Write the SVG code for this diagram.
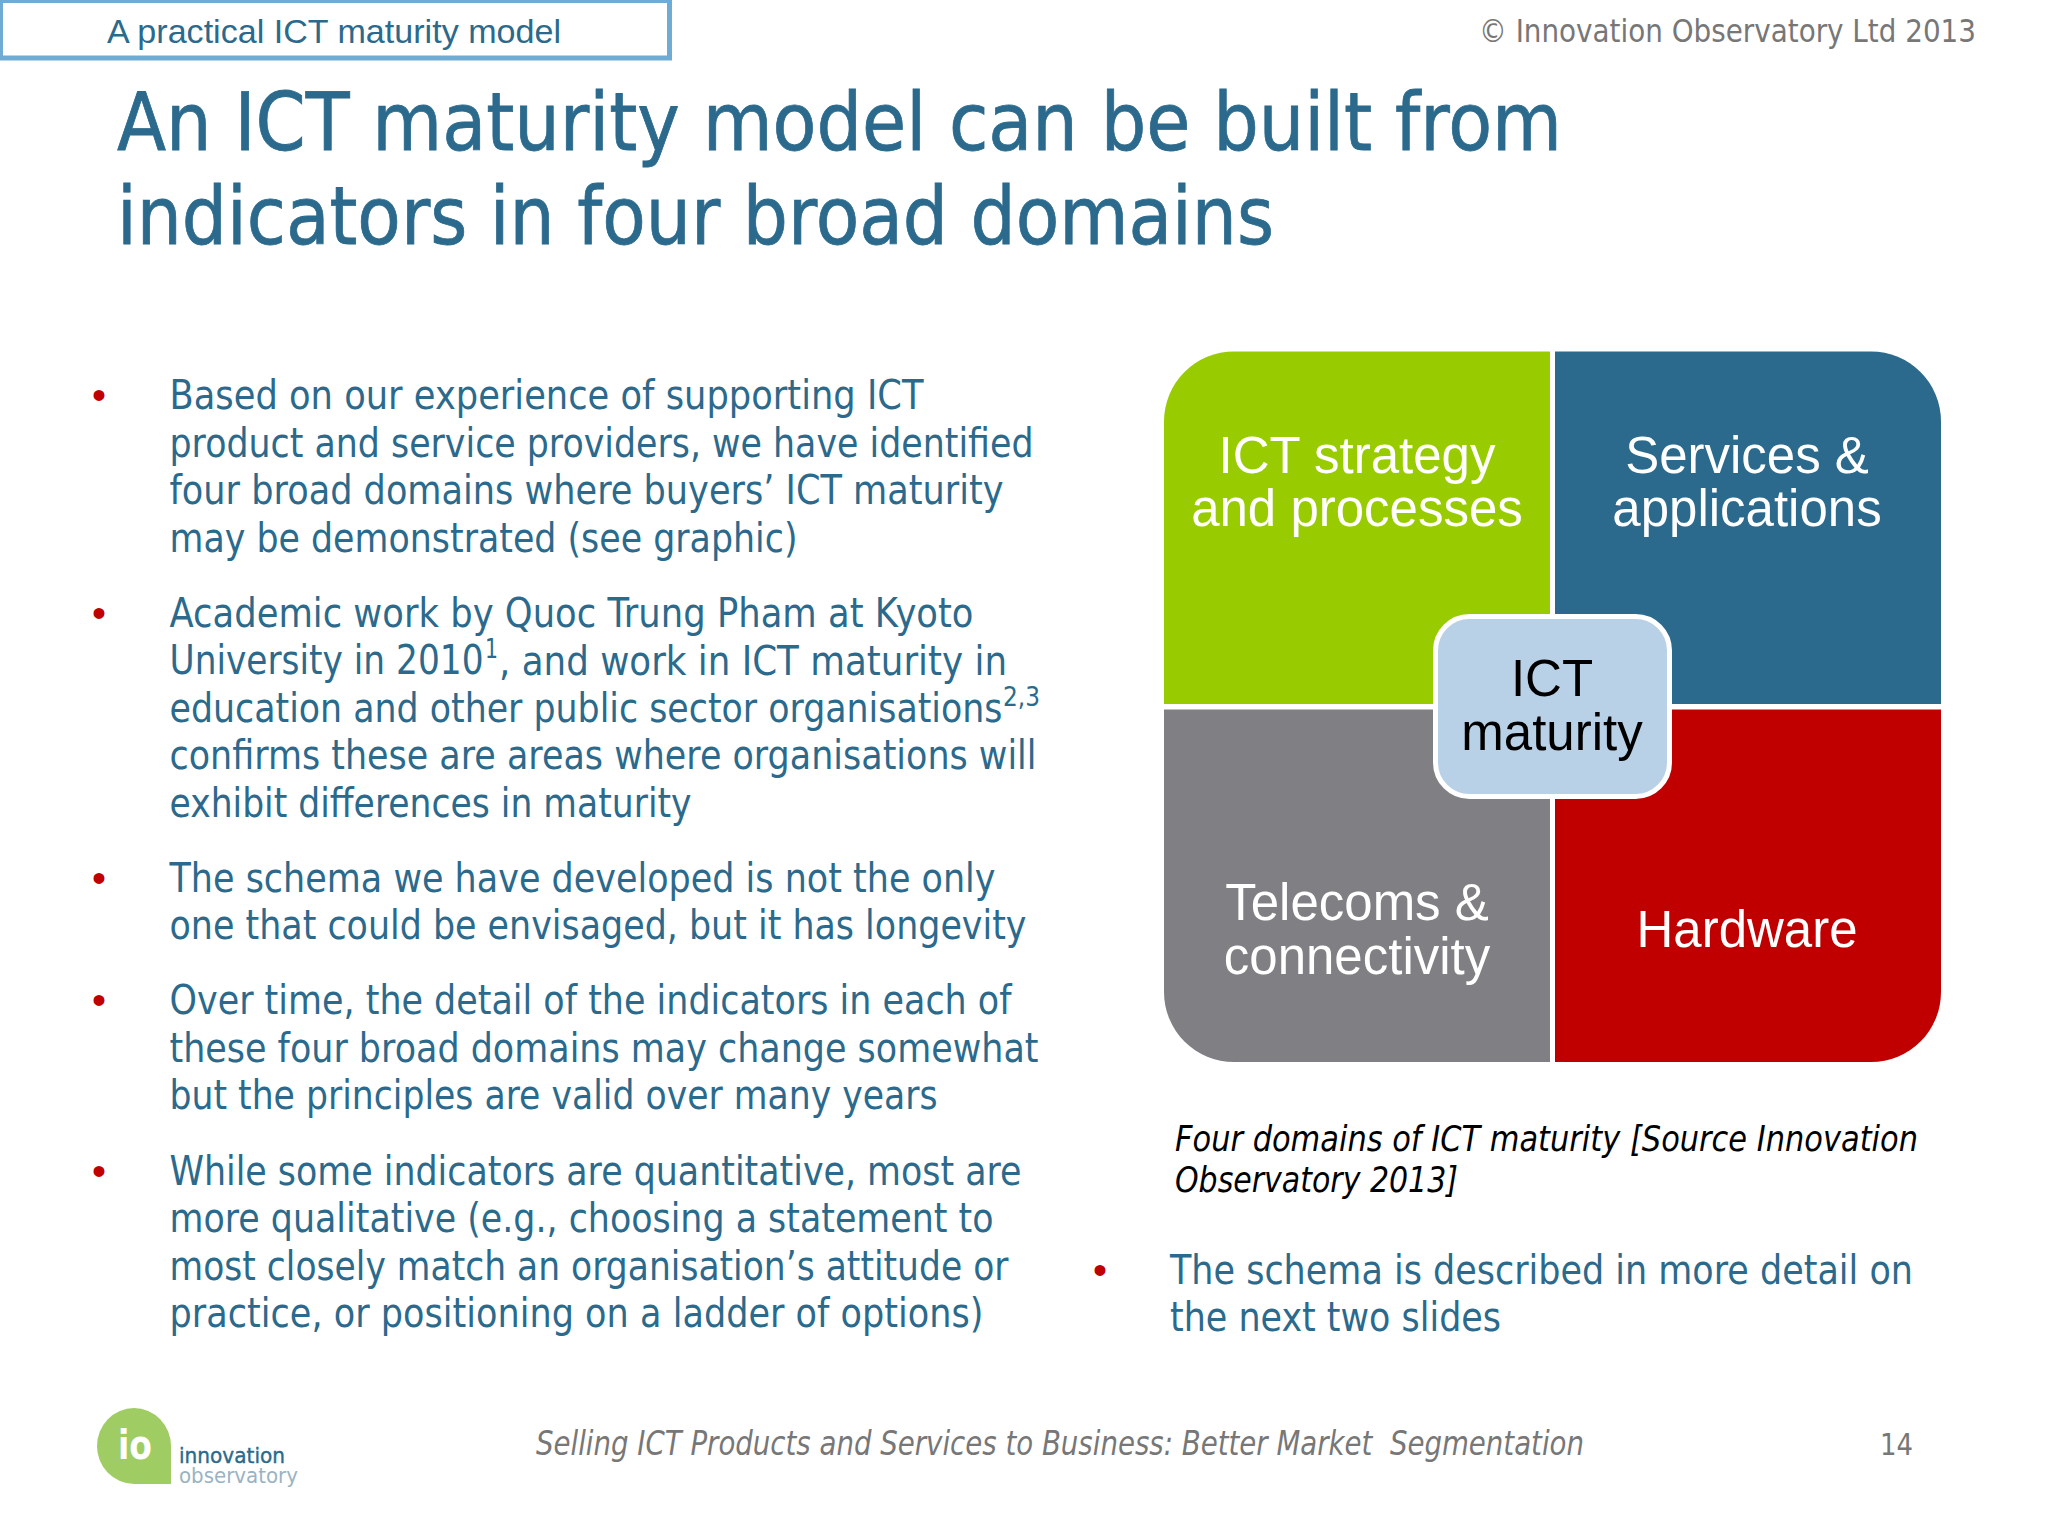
<svg xmlns="http://www.w3.org/2000/svg" width="2048" height="1536" viewBox="0 0 2048 1536">
<style>
text{font-family:"DejaVu Sans","Noto Sans",sans-serif;fill:#2b6a8c}
.b{font-size:40px}
.h{font-size:80px;stroke:#2b6a8c;stroke-width:.8px}
.q{font-family:"Liberation Sans",Arial,sans-serif;font-size:51px;fill:#fff;text-anchor:middle}
.d{fill:#c00000;font-size:40px;font-family:"Liberation Sans",Arial,sans-serif}
.s{font-size:26px}
.c{font-style:italic;fill:#000;font-size:35px}
.f{font-style:italic;fill:#777;font-size:33px}
</style>
<rect width="2048" height="1536" fill="#fff"/>
<g id="tab"><rect x="0.500" y="0.500" width="669" height="57.500" fill="#fff" stroke="#6fabd3" stroke-width="5"/>
<text x="107" y="43" style="font-family:'Liberation Sans',Arial,sans-serif;font-size:34px" textLength="454" lengthAdjust="spacingAndGlyphs">A practical ICT maturity model</text></g>
<text x="1479" y="42" style="font-size:32px;fill:#777" textLength="497" lengthAdjust="spacingAndGlyphs">© Innovation Observatory Ltd 2013</text>
<g id="title">
<text class="h" x="117" y="150" textLength="1445" lengthAdjust="spacingAndGlyphs">An ICT maturity model can be built from</text>
<text class="h" x="117" y="244" textLength="1157" lengthAdjust="spacingAndGlyphs">indicators in four broad domains</text>
</g>
<g id="body">
<text class="d" x="92" y="409">•</text>
<text class="b" x="169.500" y="409" textLength="754" lengthAdjust="spacingAndGlyphs">Based on our experience of supporting ICT</text>
<text class="b" x="169.500" y="457" textLength="864" lengthAdjust="spacingAndGlyphs">product and service providers, we have identified</text>
<text class="b" x="169.500" y="504" textLength="834" lengthAdjust="spacingAndGlyphs">four broad domains where buyers’ ICT maturity</text>
<text class="b" x="169.500" y="552" textLength="628" lengthAdjust="spacingAndGlyphs">may be demonstrated (see graphic)</text>
<text class="d" x="92" y="627">•</text>
<text class="b" x="169.500" y="627" textLength="804" lengthAdjust="spacingAndGlyphs">Academic work by Quoc Trung Pham at Kyoto</text>
<text class="b" x="169.500" y="674" textLength="314" lengthAdjust="spacingAndGlyphs">University in 2010</text>
<text class="s" x="485" y="658" textLength="13" lengthAdjust="spacingAndGlyphs">1</text>
<text class="b" x="499" y="675" textLength="508" lengthAdjust="spacingAndGlyphs">, and work in ICT maturity in</text>
<text class="b" x="169.500" y="722" textLength="833" lengthAdjust="spacingAndGlyphs">education and other public sector organisations</text>
<text class="s" x="1003" y="706" textLength="37" lengthAdjust="spacingAndGlyphs">2,3</text>
<text class="b" x="169.500" y="769" textLength="867" lengthAdjust="spacingAndGlyphs">confirms these are areas where organisations will</text>
<text class="b" x="169.500" y="817" textLength="522" lengthAdjust="spacingAndGlyphs">exhibit differences in maturity</text>
<text class="d" x="92" y="892">•</text>
<text class="b" x="169.500" y="892" textLength="826" lengthAdjust="spacingAndGlyphs">The schema we have developed is not the only</text>
<text class="b" x="169.500" y="939" textLength="857" lengthAdjust="spacingAndGlyphs">one that could be envisaged, but it has longevity</text>
<text class="d" x="92" y="1014">•</text>
<text class="b" x="169.500" y="1014" textLength="842" lengthAdjust="spacingAndGlyphs">Over time, the detail of the indicators in each of</text>
<text class="b" x="169.500" y="1062" textLength="869" lengthAdjust="spacingAndGlyphs">these four broad domains may change somewhat</text>
<text class="b" x="169.500" y="1109" textLength="768" lengthAdjust="spacingAndGlyphs">but the principles are valid over many years</text>
<text class="d" x="92" y="1185">•</text>
<text class="b" x="169.500" y="1185" textLength="852" lengthAdjust="spacingAndGlyphs">While some indicators are quantitative, most are</text>
<text class="b" x="169.500" y="1232" textLength="824" lengthAdjust="spacingAndGlyphs">more qualitative (e.g., choosing a statement to</text>
<text class="b" x="169.500" y="1280" textLength="839" lengthAdjust="spacingAndGlyphs">most closely match an organisation’s attitude or</text>
<text class="b" x="169.500" y="1327" textLength="814" lengthAdjust="spacingAndGlyphs">practice, or positioning on a ladder of options)</text>
</g>
<g id="matrix">
<path id="strategy" d="M1550 351.500V704H1164V421.500a70 70 0 0 1 70-70Z" fill="#99cc00"/>
<path id="services" d="M1555 351.500H1871a70 70 0 0 1 70 70V704H1555Z" fill="#2b6a8c"/>
<path id="telecoms" d="M1550 709.500V1062H1234a70 70 0 0 1-70-70V709.500Z" fill="#807f83"/>
<path id="hardware" d="M1555 709.500H1941V992a70 70 0 0 1-70 70H1555Z" fill="#c00000"/>
<rect id="centre" x="1435.500" y="616.500" width="234" height="180" rx="34" fill="#b9d1e6" stroke="#fff" stroke-width="5"/>
<text class="q" x="1357" y="473">ICT strategy</text>
<text class="q" x="1357" y="526">and processes</text>
<text class="q" x="1747" y="473">Services &amp;</text>
<text class="q" x="1747" y="526">applications</text>
<text class="q" x="1357" y="920">Telecoms &amp;</text>
<text class="q" x="1357" y="974">connectivity</text>
<text class="q" x="1747" y="947">Hardware</text>
<text class="q" x="1552" y="696" style="fill:#000">ICT</text>
<text class="q" x="1552" y="750" style="fill:#000">maturity</text>
</g>
<g id="caption">
<text class="c" x="1175" y="1151" textLength="743" lengthAdjust="spacingAndGlyphs">Four domains of ICT maturity [Source Innovation</text>
<text class="c" x="1175" y="1192" textLength="283" lengthAdjust="spacingAndGlyphs">Observatory 2013]</text>
</g>
<g id="note">
<text class="d" x="1093" y="1284">•</text>
<text class="b" x="1170" y="1284" textLength="743" lengthAdjust="spacingAndGlyphs">The schema is described in more detail on</text>
<text class="b" x="1170" y="1331" textLength="331" lengthAdjust="spacingAndGlyphs">the next two slides</text>
</g>
<g id="logo">
<path d="M171 1484H134a37 38 0 1 1 37-38Z" fill="#9fcd63"/>
<text x="118" y="1459" style="font-size:40px;font-weight:bold;fill:#fff" textLength="34" lengthAdjust="spacingAndGlyphs">io</text>
<text x="179" y="1463" style="font-size:21px;stroke:#2b6a8c;stroke-width:.4px" textLength="106" lengthAdjust="spacingAndGlyphs">innovation</text>
<text x="179" y="1483" style="font-size:21px;fill:#9ab3c3" textLength="119" lengthAdjust="spacingAndGlyphs">observatory</text>
</g>
<g id="footer">
<text class="f" x="536" y="1455" textLength="1048" lengthAdjust="spacingAndGlyphs" xml:space="preserve">Selling ICT Products and Services to Business: Better Market  Segmentation</text>
<text x="1880" y="1455" style="font-size:30px;fill:#777" textLength="33" lengthAdjust="spacingAndGlyphs">14</text>
</g>
</svg>
